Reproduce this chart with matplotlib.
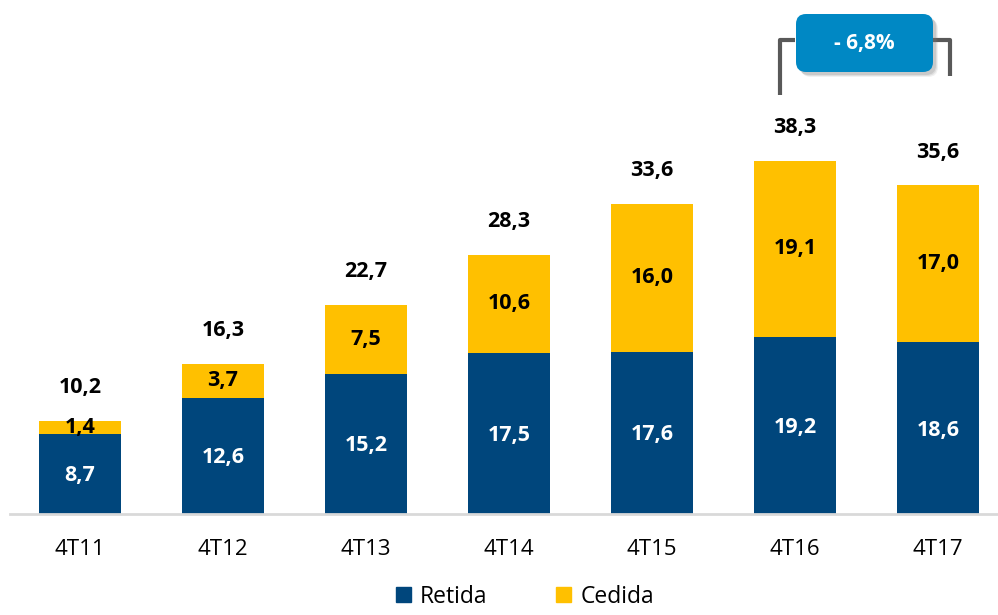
import matplotlib.pyplot as plt
from matplotlib.patches import FancyBboxPatch, Patch

plt.rcParams['font.family'] = ['Open Sans', 'DejaVu Sans']

categories = ['4T11', '4T12', '4T13', '4T14', '4T15', '4T16', '4T17']
retida = [8.7, 12.6, 15.2, 17.5, 17.6, 19.2, 18.6]
cedida = [1.4, 3.7, 7.5, 10.6, 16.0, 19.1, 17.0]
totals = [10.2, 16.3, 22.7, 28.3, 33.6, 38.3, 35.6]
change_label = '- 6,8%'

blue = '#00467C'
yellow = '#FFC000'
box_blue = '#0088C4'

fig = plt.figure(figsize=(9.98, 6.15), dpi=100)
ax = fig.add_axes([10 / 998, 101 / 615, 988 / 998, 514 / 615])

x = list(range(len(categories)))
w = 0.57
ax.bar(x, retida, w, color=blue, label='Retida')
ax.bar(x, cedida, w, bottom=retida, color=yellow, label='Cedida')

def fmt(v):
    return f'{v:.1f}'.replace('.', ',')

for i in x:
    ax.text(i, retida[i] / 2 - 0.2, fmt(retida[i]), ha='center', va='center',
            color='white', fontsize=15.5, fontweight='bold')
    ax.text(i, retida[i] + cedida[i] / 2, fmt(cedida[i]), ha='center', va='center',
            color='black', fontsize=15.5, fontweight='bold')
    ax.annotate(fmt(totals[i]), (i, retida[i] + cedida[i]), xytext=(0, 24),
                textcoords='offset points', ha='center', va='center',
                color='black', fontsize=15.5, fontweight='bold')

ax.set_xlim(-0.49, 6.42)
ax.set_ylim(0, 55.7)
ax.set_xticks(x)
ax.set_xticklabels(categories, fontsize=16)
ax.tick_params(axis='x', length=0, pad=18)
ax.set_yticks([])
for s in ['top', 'left', 'right']:
    ax.spines[s].set_visible(False)
ax.spines['bottom'].set_color('#d9d9d9')
ax.spines['bottom'].set_linewidth(2)

# bracket between 4T16 and 4T17
bc = '#595959'
ax.plot([5 - 0.105, 5 - 0.105, 5.0], [45.4, 51.4, 51.4], color=bc, lw=3,
        clip_on=False, solid_capstyle='butt')
ax.plot([6 - 0.04, 6 + 0.084, 6 + 0.084], [51.4, 51.4, 47.5], color=bc, lw=3,
        clip_on=False, solid_capstyle='butt')

# rounded box with soft shadow (inches)
for k, a in [(0.05, 0.10), (0.04, 0.15), (0.03, 0.2)]:
    shadow = FancyBboxPatch((7.96 + k, 5.43 - k), 1.37, 0.58,
                            boxstyle='round,pad=0,rounding_size=0.1',
                            transform=fig.dpi_scale_trans, fc='#777777',
                            ec='none', alpha=a)
    fig.add_artist(shadow)
box = FancyBboxPatch((7.96, 5.43), 1.37, 0.58,
                     boxstyle='round,pad=0,rounding_size=0.1',
                     transform=fig.dpi_scale_trans, fc=box_blue, ec='none')
fig.add_artist(box)
fig.text(7.96 + 1.37 / 2, 5.43 + 0.29, change_label, transform=fig.dpi_scale_trans,
         ha='center', va='center', color='white', fontsize=15, fontweight='bold')

handles = [Patch(color=blue, label='Retida'), Patch(color=yellow, label='Cedida')]
fig.legend(handles=handles, loc='center', bbox_to_anchor=(0.526, 0.03), ncol=2,
           frameon=False, fontsize=16.5, handlelength=0.65, handleheight=0.65,
           handletextpad=0.4, columnspacing=3.0)

fig.savefig('out.png', dpi=100)
